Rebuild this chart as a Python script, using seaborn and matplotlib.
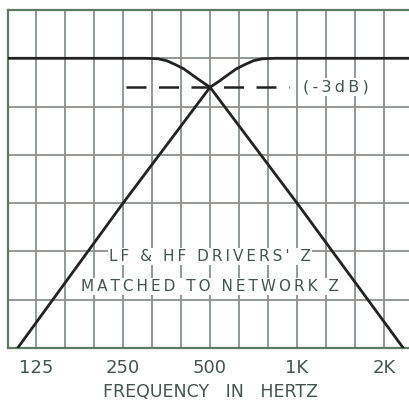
import numpy as np
import pandas as pd
import matplotlib
matplotlib.use("Agg")
import matplotlib.pyplot as plt
import seaborn as sns

# Crossover response of a two-way network (dB vs. frequency)
lf_freq = [100, 297, 330, 354, 379, 406, 435, 467, 500, 1000, 2330]
lf_db = [0.0, 0.0, -0.05, -0.25, -0.65, -1.1, -1.75, -2.4, -3.0, -15.0, -30.0]

hf_freq = [108, 250, 500, 536, 574, 616, 660, 707, 758, 841, 2520]
hf_db = [-30.0, -15.0, -3.0, -2.4, -1.75, -1.1, -0.65, -0.25, -0.05, 0.0, 0.0]

tick_freqs = [125, 250, 500, 1000, 2000]
tick_labels = ["125", "250", "500", "1K", "2K"]

crossover_db = -3.0
dash_span = [256, 940]

df = pd.concat([
    pd.DataFrame({"freq": lf_freq, "db": lf_db, "driver": "LF"}),
    pd.DataFrame({"freq": hf_freq, "db": hf_db, "driver": "HF"}),
])

THIN = "\u2009"


def spaced(s):
    """Open up the lettering with thin spaces between characters."""
    return THIN.join(s)


sns.set_style("white")
plt.rcParams["font.family"] = ["DejaVu Sans"]

fig = plt.figure(figsize=(4.09, 4.03), dpi=100)
ax = fig.add_axes([8 / 409, 1 - 348 / 403, 1 - 8 / 409 + 0.01, (348 - 10) / 403])

ink = "#222222"
grid_c = "#8c918c"
frame_c = "#5e7a62"
text_c = "#44554f"

ax.set_xscale("log", base=2)
ax.set_xlim(100, 2520)
ax.set_ylim(-30, 5)

# third-octave vertical grid, 5 dB horizontal grid
thirds = [125 * 2 ** (k / 3) for k in range(0, 14)]
for f in thirds:
    ax.axvline(f, color=grid_c, lw=1.3, zorder=1)
for y in range(-25, 5, 5):
    ax.axhline(y, color=grid_c, lw=1.3, zorder=1)

sns.lineplot(data=df, x="freq", y="db", units="driver", estimator=None,
             color=ink, lw=2.0, sort=False, ax=ax, zorder=3, legend=False)

ax.plot(dash_span, [crossover_db, crossover_db], color=ink, lw=1.8,
        dashes=(8, 5), zorder=3)
ax.text(1050, crossover_db, spaced("(-3dB)"), color=text_c, fontsize=11.5,
        va="center", ha="left", zorder=4,
        bbox=dict(facecolor="white", edgecolor="none", pad=1))

ax.text(500, -20.5, spaced("LF & HF DRIVERS' Z"), color=text_c, fontsize=11,
        ha="center", va="center", zorder=4,
        bbox=dict(facecolor="white", edgecolor="none", pad=0.8))
ax.text(500, -23.6, spaced("MATCHED TO NETWORK Z"), color=text_c, fontsize=11,
        ha="center", va="center", zorder=4,
        bbox=dict(facecolor="white", edgecolor="none", pad=0.8))

ax.set_xticks(tick_freqs)
ax.set_xticklabels(tick_labels)
ax.minorticks_off()
ax.set_yticks([])
ax.tick_params(axis="x", length=0, pad=8, labelsize=13, labelcolor=text_c)
ax.set_xlabel("FREQUENCY   IN   HERTZ", fontsize=12.5, color=text_c, labelpad=4)
ax.set_ylabel("")

for side in ["left", "bottom", "top"]:
    ax.spines[side].set_color(frame_c)
    ax.spines[side].set_linewidth(1.6)
ax.spines["right"].set_visible(False)

fig.savefig("out.png", dpi=100)
